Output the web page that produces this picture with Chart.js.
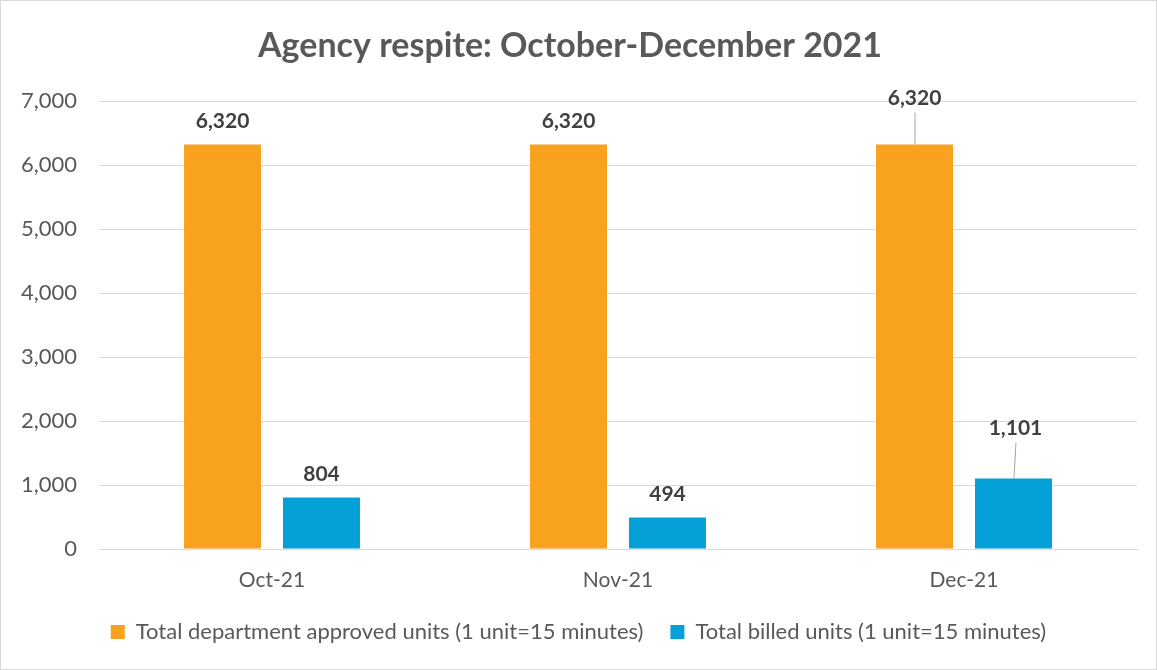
<!DOCTYPE html>
<html>
<head>
<meta charset="utf-8">
<script src="https://cdn.jsdelivr.net/npm/chart.js@4"></script>
<style>
  html, body { margin: 0; padding: 0; background: #fff; }
  canvas { display: block; }
</style>
</head>
<body>
<canvas id="c" width="1157" height="670"></canvas>
<script>
const categories = ["Oct-21", "Nov-21", "Dec-21"];
const approvedUnits = [6320, 6320, 6320];
const billedUnits = [804, 494, 1101];
const seriesNames = [
  "Total department approved units (1 unit=15 minutes)",
  "Total billed units (1 unit=15 minutes)"
];
const chartTitle = "Agency respite: October-December 2021";
const yTicks = [0, 1000, 2000, 3000, 4000, 5000, 6000, 7000];

const FONT = "Lato, 'Open Sans', sans-serif";
const GRAY = "#595959";

const fmt = v => v.toLocaleString("en-US");

// extra lift (px) for labels drawn with a leader line: [datasetIndex][pointIndex]
const labelLift = [[0, 0, 23], [0, 0, 27]];

const decorPlugin = {
  id: "decor",
  beforeDraw(chart) {
    const ctx = chart.ctx;
    ctx.save();
    ctx.fillStyle = "#fff";
    ctx.fillRect(0, 0, chart.width, chart.height);
    ctx.strokeStyle = "#d9d9d9";
    ctx.lineWidth = 1;
    ctx.strokeRect(0.5, 0.5, chart.width - 1, chart.height - 1);
    ctx.fillStyle = GRAY;
    ctx.font = "bold 34px " + FONT;
    ctx.textAlign = "center";
    ctx.textBaseline = "middle";
    ctx.fillText(chartTitle, 570, 46);
    ctx.restore();
  },
  afterDatasetsDraw(chart) {
    const ctx = chart.ctx;
    ctx.save();
    ctx.font = "bold 21px " + FONT;
    ctx.fillStyle = "#404040";
    ctx.textAlign = "center";
    ctx.textBaseline = "middle";
    chart.data.datasets.forEach((ds, di) => {
      const meta = chart.getDatasetMeta(di);
      meta.data.forEach((bar, i) => {
        const lift = labelLift[di][i];
        const ly = bar.y - 23 - lift;
        const lx = bar.x + (lift && di === 1 ? 2 : 0);
        if (lift) {
          ctx.strokeStyle = "#a6a6a6";
          ctx.lineWidth = 1;
          ctx.beginPath();
          ctx.moveTo(bar.x + 0.5, bar.y);
          ctx.lineTo(lx + 0.5, ly + 14);
          ctx.stroke();
        }
        ctx.fillText(fmt(ds.data[i]), lx, ly);
      });
    });
    ctx.restore();
  }
};

new Chart(document.getElementById("c"), {
  type: "bar",
  data: {
    labels: categories,
    datasets: [
      { label: seriesNames[0], data: approvedUnits, backgroundColor: "#F8A21F" },
      { label: seriesNames[1], data: billedUnits, backgroundColor: "#06A0D9" }
    ]
  },
  options: {
    responsive: false,
    animation: false,
    layout: { padding: { top: 101, left: 20, right: 20, bottom: 17 } },
    datasets: { bar: { categoryPercentage: 0.572, barPercentage: 0.778 } },
    scales: {
      x: {
        grid: { display: false, drawTicks: false },
        border: { display: true, color: "#d9d9d9" },
        ticks: { color: GRAY, font: { family: FONT, size: 21 }, padding: 19 },
        afterFit(s) { s.height = 45; }
      },
      y: {
        min: 0, max: 7000,
        afterBuildTicks(s) { s.ticks = yTicks.map(v => ({ value: v })); },
        grid: { color: "#d9d9d9", drawTicks: false },
        border: { display: false },
        ticks: { color: GRAY, font: { family: FONT, size: 22 }, padding: 22, callback: v => fmt(v) },
        afterFit(s) { s.width = 79; }
      }
    },
    plugins: {
      title: { display: false },
      tooltip: { enabled: false },
      legend: {
        position: "bottom",
        labels: {
          color: GRAY,
          font: { family: FONT, size: 22 },
          boxWidth: 14, boxHeight: 14,
          padding: 27
        }
      }
    }
  },
  plugins: [decorPlugin]
});
</script>
</body>
</html>
